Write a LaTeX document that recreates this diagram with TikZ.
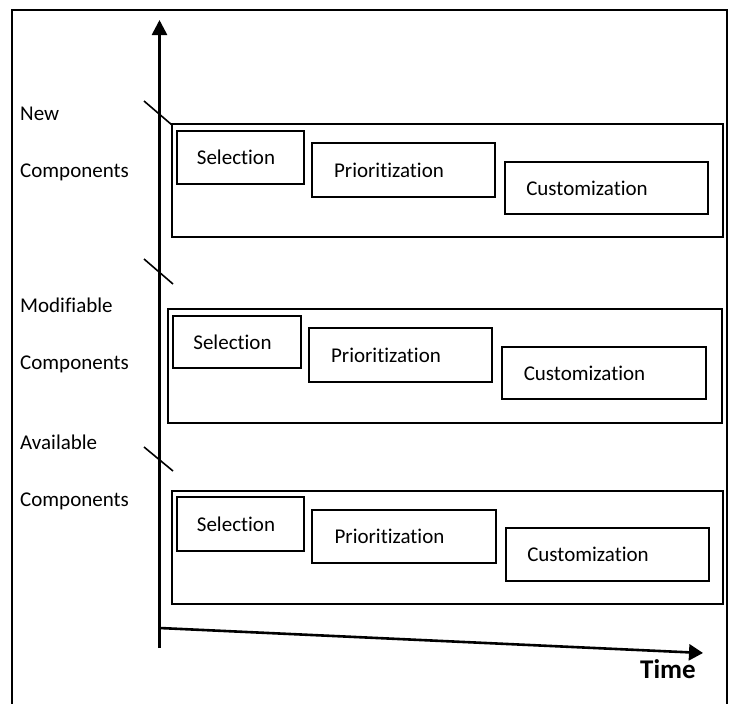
\documentclass[tikz,border=0pt]{standalone}
\usepackage{fontspec}
\setmainfont{Carlito}[Ligatures={NoCommon}]
\usetikzlibrary{arrows.meta}
\begin{document}
\begin{tikzpicture}[x=1pt,y=-1pt,
  frame/.style={line width=2pt},
  grp/.style={draw, line width=2pt, rectangle, inner sep=0pt},
  stage/.style={draw, line width=2pt, rectangle, inner sep=0pt, font=\fontsize{21}{25}\selectfont},
  lbl/.style={anchor=base west, inner sep=0pt, font=\fontsize{21}{25}\selectfont},
  axis/.style={line width=2.6pt},
  tick/.style={line width=1.6pt}]
\useasboundingbox (0,0) rectangle (732,704);
\begin{scope}
\clip (0,0) rectangle (732,704);
\draw[frame] (12,710) -- (12,10) -- (727,10) -- (727,710);
\end{scope}

% axes
\coordinate (ybot) at (159.5,648);
\coordinate (ytop) at (159.5,20);
\coordinate (tstart) at (159.5,628);
\coordinate (tend) at (703,653);
\draw[axis, -{Triangle[length=15pt,width=15pt]}] (ybot) -- (ytop);
\draw[axis, -{Triangle[length=14pt,width=16pt]}] (tstart) -- (tend);
\node[anchor=base, inner sep=0pt, font=\fontsize{27}{30}\selectfont\bfseries] (time) at (668,678) {Time};

% ticks
\coordinate (t1a) at (144,101); \coordinate (t1b) at (172,125);
\coordinate (t2a) at (144,259); \coordinate (t2b) at (173,284);
\coordinate (t3a) at (144,447); \coordinate (t3b) at (173,471);
\draw[tick] (t1a) -- (t1b);
\draw[tick] (t2a) -- (t2b);
\draw[tick] (t3a) -- (t3b);

% left labels
\node[lbl] (l1) at (20,120) {New};
\node[lbl] (l2) at (20,177) {Components};
\node[lbl] (l3) at (20,312) {Modifiable};
\node[lbl] (l4) at (20,369) {Components};
\node[lbl] (l5) at (20,449) {Available};
\node[lbl] (l6) at (20,506) {Components};

% group 1
\node[grp, minimum width=551, minimum height=113] (g1) at (447.5,180.5) {};
\node[stage, minimum width=127, minimum height=53] (s1) at (240.5,157.5) {\hspace*{-9pt}Selection};
\node[stage, minimum width=183, minimum height=54] (p1) at (403.5,170) {\hspace*{-29pt}Prioritization};
\node[stage, minimum width=203, minimum height=52] (c1) at (606.5,188) {\hspace*{-39pt}Customization};

% group 2
\node[grp, minimum width=554, minimum height=114] (g2) at (445,366) {};
\node[stage, minimum width=128, minimum height=52] (s2) at (237,342) {\hspace*{-9pt}Selection};
\node[stage, minimum width=183, minimum height=54] (p2) at (400.5,355) {\hspace*{-29pt}Prioritization};
\node[stage, minimum width=204, minimum height=52] (c2) at (604,373) {\hspace*{-39pt}Customization};

% group 3
\node[grp, minimum width=551, minimum height=113] (g3) at (447.5,547.5) {};
\node[stage, minimum width=127, minimum height=54] (s3) at (240.5,524) {\hspace*{-9pt}Selection};
\node[stage, minimum width=184, minimum height=53] (p3) at (404,536.5) {\hspace*{-29pt}Prioritization};
\node[stage, minimum width=203, minimum height=53] (c3) at (607.5,554.5) {\hspace*{-39pt}Customization};
\end{tikzpicture}
\end{document}
